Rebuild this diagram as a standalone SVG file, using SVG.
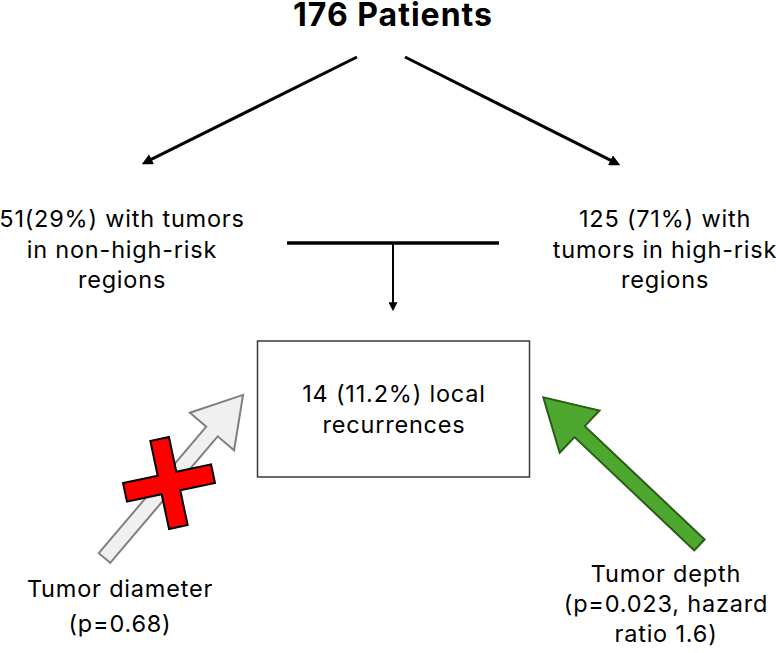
<svg xmlns="http://www.w3.org/2000/svg" width="776" height="653" viewBox="0 0 776 653">
<defs>
<style>
text{font-family:Inter,"Liberation Sans",Arial,sans-serif;fill:#000;text-anchor:middle}
.t{font-size:23.5px;letter-spacing:0.8px}
.title{font-size:32px;font-weight:bold;letter-spacing:1px}
.conn{stroke:#000;fill:none}
</style>
<marker id="ah" viewBox="0 0 10 10" refX="7" refY="5" markerWidth="11" markerHeight="11" markerUnits="userSpaceOnUse" orient="auto">
<path d="M0,0 L10,5 L0,10 z" fill="#000"/>
</marker>
<marker id="ahs" viewBox="0 0 10 10" refX="7" refY="5" markerWidth="9" markerHeight="9" markerUnits="userSpaceOnUse" orient="auto">
<path d="M0,0 L10,5 L0,10 z" fill="#000"/>
</marker>
</defs>
<rect width="776" height="653" fill="#fff"/>

<g id="title"><text class="title" x="393" y="26">176 Patients</text></g>

<g id="connectors">
<line class="conn" x1="357" y1="57" x2="144.7" y2="162.7" stroke-width="3" marker-end="url(#ah)"/>
<line class="conn" x1="405" y1="57" x2="617.3" y2="163.7" stroke-width="3" marker-end="url(#ah)"/>
<line class="conn" x1="287" y1="243" x2="499" y2="243" stroke-width="3.3"/>
<line class="conn" x1="393" y1="243" x2="393" y2="308.5" stroke-width="2"/>
<line x1="393" y1="300" x2="393" y2="308.5" stroke="none" marker-end="url(#ahs)"/>
</g>

<g id="left-group">
<text class="t" x="122" y="227">51(29%) with tumors</text>
<text class="t" x="122" y="258">in non-high-risk</text>
<text class="t" x="122" y="288">regions</text>
</g>

<g id="right-group">
<text class="t" x="665" y="227">125 (71%) with</text>
<text class="t" x="665" y="258">tumors in high-risk</text>
<text class="t" x="665" y="288">regions</text>
</g>

<g id="recurrences">
<rect x="257.5" y="341" width="272" height="136" fill="#fff" stroke="#3a3a3a" stroke-width="1.5"/>
<text class="t" x="394" y="402">14 (11.2%) local</text>
<text class="t" x="394" y="433">recurrences</text>
</g>

<g id="diameter-arrow">
<polygon transform="translate(104.5,558) rotate(-49.65)" points="0,-7.5 166,-7.5 166,-29 214,0 166,29 166,7.5 0,7.5" fill="#f0f0f0" stroke="#808080" stroke-width="2" stroke-linejoin="miter"/>
</g>

<g id="cross">
<polygon transform="translate(169,483) rotate(-12)" points="-9.5,-45 9.5,-45 9.5,-9.5 45,-9.5 45,9.5 9.5,9.5 9.5,45 -9.5,45 -9.5,9.5 -45,9.5 -45,-9.5 -9.5,-9.5" fill="#ff0000" stroke="#000" stroke-width="2"/>
</g>

<g id="depth-arrow">
<polygon transform="translate(699.5,545) rotate(-136.6)" points="0,-7.5 165,-7.5 165,-29 215,0 165,29 165,7.5 0,7.5" fill="#4ea72e" stroke="#2a5e17" stroke-width="2"/>
</g>

<g id="diameter-label">
<text class="t" x="120" y="597">Tumor diameter</text>
<text class="t" x="120" y="632">(p=0.68)</text>
</g>

<g id="depth-label">
<text class="t" x="666" y="582">Tumor depth</text>
<text class="t" x="666" y="612">(p=0.023, hazard</text>
<text class="t" x="666" y="642">ratio 1.6)</text>
</g>
</svg>
